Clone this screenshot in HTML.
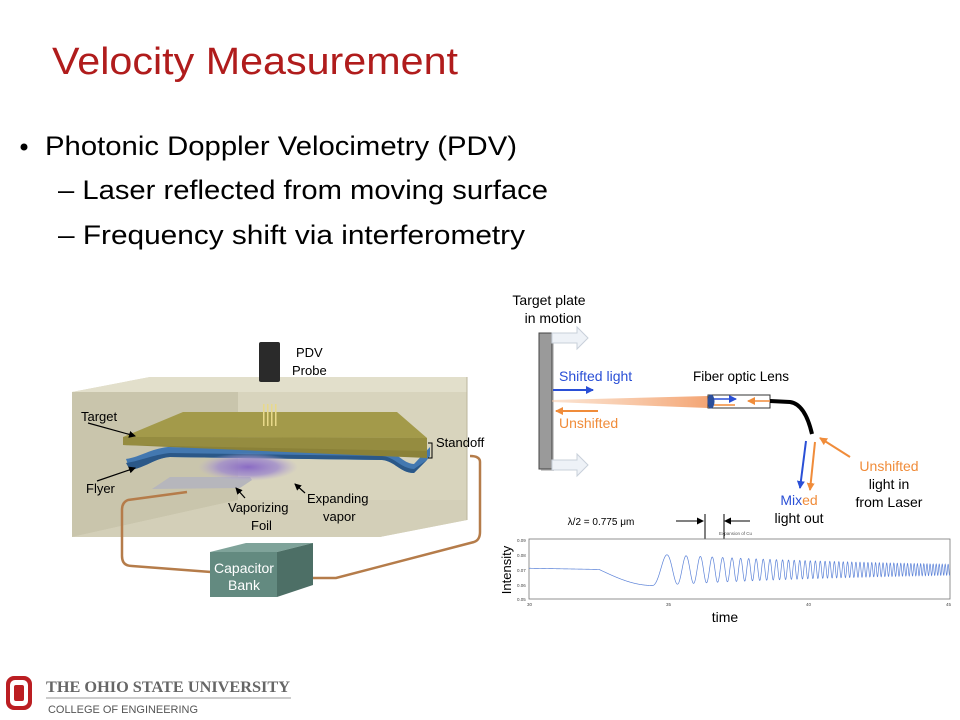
<!DOCTYPE html>
<html><head><meta charset="utf-8"><style>
html,body{margin:0;padding:0;background:#fff;}
svg{display:block;font-family:"Liberation Sans",Arial,sans-serif;}
</style></head><body>
<svg id="s" width="960" height="720" viewBox="0 0 960 720" xmlns="http://www.w3.org/2000/svg">
<defs>
<marker id="ab" markerWidth="8" markerHeight="8" refX="7" refY="4" orient="auto" markerUnits="userSpaceOnUse"><path d="M0,0 L8,4 L0,8 z" fill="#2a4fd6"/></marker>
<marker id="ao" markerWidth="8" markerHeight="8" refX="7" refY="4" orient="auto" markerUnits="userSpaceOnUse"><path d="M0,0 L8,4 L0,8 z" fill="#f08c3a"/></marker>
<marker id="ak" markerWidth="7" markerHeight="7" refX="6" refY="3.5" orient="auto" markerUnits="userSpaceOnUse"><path d="M0,0 L7,3.5 L0,7 z" fill="#000"/></marker>
<linearGradient id="beam" x1="0" x2="1"><stop offset="0" stop-color="#f7c7a3" stop-opacity="0.5"/><stop offset="1" stop-color="#f4a574"/></linearGradient>
<radialGradient id="vap"><stop offset="0" stop-color="#8a6bc4"/><stop offset="0.6" stop-color="#a08ccc" stop-opacity="0.8"/><stop offset="1" stop-color="#b7a9d4" stop-opacity="0"/></radialGradient>
</defs>
<text x="52" y="74" font-size="38" fill="#b01c1c" textLength="406" lengthAdjust="spacingAndGlyphs">Velocity Measurement</text>
<circle cx="24" cy="147" r="3.5" fill="#000"/>
<text x="45" y="155" font-size="27" fill="#000" textLength="472" lengthAdjust="spacingAndGlyphs">Photonic Doppler Velocimetry (PDV)</text>
<text x="58" y="199" font-size="27" fill="#000" textLength="490" lengthAdjust="spacingAndGlyphs">– Laser reflected from moving surface</text>
<text x="58" y="244" font-size="27" fill="#000" textLength="467" lengthAdjust="spacingAndGlyphs">– Frequency shift via interferometry</text>

<polygon points="72,392 150,377 467,377 467,520 380,537 72,537" fill="#d8d4bd"/>
<polygon points="72,392 150,377 467,377 467,392" fill="#e2dfcb"/>
<polygon points="72,392 238,392 238,500 72,537" fill="#c9c5ac"/>
<polygon points="72,537 238,500 467,500 467,520 380,537" fill="#d3cfb8"/>
<line x1="467" y1="377" x2="467" y2="520" stroke="#bbb69c"/>
<path d="M187,492 L128,500 Q122,502 122,510 L122,556 Q122,566 132,566 L211,572" fill="none" stroke="#b57c4a" stroke-width="2.5"/>
<path d="M300,578 L336,578 L474,542 Q480,540 480,532 L480,462 Q480,456 470,456" fill="none" stroke="#b57c4a" stroke-width="2.5"/>
<polygon points="210,552 246,543 313,543 277,552" fill="#7fa39a"/>
<polygon points="277,552 313,543 313,585 277,597" fill="#4d6f66"/>
<rect x="210" y="552" width="67" height="45" fill="#638a80"/>
<text x="244" y="573" font-size="14" fill="#fff" text-anchor="middle">Capacitor</text>
<text x="244" y="590" font-size="14" fill="#fff" text-anchor="middle">Bank</text>
<polygon points="152,489 240,488 252,480 250,477 170,477" fill="#b6b6bc"/>
<!-- flyer -->
<path d="M126,459 C140,457 150,449 168,447 L385,451 C398,452 402,463 414,464 L430,447 L430,456 L427,460 L414,473 C400,473 395,461 382,460 L170,457 C155,458 145,468 130,470 Z" fill="#4378b0"/>
<path d="M126,463 C140,461 152,455 170,453 L382,456 C395,457 400,468 414,469 L427,460 L414,473 C400,473 395,461 382,460 L170,457 C155,458 145,468 130,470 Z" fill="#2b5888"/>
<ellipse cx="248" cy="467" rx="50" ry="14" fill="url(#vap)"/>
<polygon points="123,437 183,412 397,412 427,438" fill="#a39a4a"/>
<polygon points="123,437 427,438 427,458 123,445" fill="#8a8138"/>
<polygon points="123,437 427,438 427,451 123,445" fill="#958c40"/>
<rect x="259" y="342" width="21" height="40" rx="2" fill="#2a2a2a"/>
<g fill="#e8d98a"><rect x="263" y="404" width="1.5" height="22"/><rect x="267" y="404" width="1.5" height="22"/><rect x="271" y="404" width="1.5" height="22"/><rect x="275" y="404" width="1.5" height="22"/></g>
<g font-size="13" fill="#000">
<text x="296" y="357">PDV</text><text x="292" y="375">Probe</text>
<text x="81" y="421">Target</text>
<text x="86" y="493">Flyer</text>
<text x="436" y="447">Standoff</text>
<text x="228" y="512">Vaporizing</text><text x="251" y="530">Foil</text>
<text x="307" y="503">Expanding</text><text x="323" y="521">vapor</text>
</g>
<path d="M428,443 L432,443 L432,458 L428,458" fill="none" stroke="#000"/>
<g stroke="#000" stroke-width="1.2">
<line x1="88" y1="423" x2="135" y2="436" marker-end="url(#ak)"/>
<line x1="97" y1="481" x2="135" y2="468" marker-end="url(#ak)"/>
<line x1="245" y1="498" x2="236" y2="488" marker-end="url(#ak)"/>
<line x1="305" y1="493" x2="295" y2="484" marker-end="url(#ak)"/>
</g>

<text x="549" y="305" font-size="14" text-anchor="middle">Target plate</text>
<text x="553" y="323" font-size="14" text-anchor="middle">in motion</text>
<rect x="541" y="335" width="13" height="136" fill="#333" opacity="0.25"/>
<rect x="539" y="333" width="13" height="136" fill="#9a9a9a" stroke="#444"/>
<path d="M552,333 L577,333 L577,327 L588,338 L577,349 L577,343 L552,343z" fill="#eef2f7" stroke="#c8d0da"/>
<path d="M552,460 L577,460 L577,454 L588,465 L577,476 L577,470 L552,470z" fill="#eef2f7" stroke="#c8d0da"/>
<polygon points="552,400 708,396 708,408 552,402" fill="url(#beam)"/>
<line x1="553" y1="390" x2="593" y2="390" stroke="#2a4fd6" stroke-width="2" marker-end="url(#ab)"/>
<line x1="598" y1="411" x2="556" y2="411" stroke="#f08c3a" stroke-width="2" marker-end="url(#ao)"/>
<text x="559" y="381" font-size="14" fill="#2a4fd6">Shifted light</text>
<text x="559" y="428" font-size="14" fill="#f08c3a">Unshifted</text>
<text x="693" y="381" font-size="13.5">Fiber optic Lens</text>
<rect x="708" y="395" width="62" height="13" fill="#fff" stroke="#333"/>
<ellipse cx="711" cy="401.5" rx="3.5" ry="7" fill="#2b4e9a"/>
<line x1="714" y1="399" x2="736" y2="399" stroke="#2a4fd6" stroke-width="1.5" marker-end="url(#ab)"/>
<line x1="714" y1="405" x2="735" y2="405" stroke="#f08c3a" stroke-width="1.5"/>
<line x1="770" y1="401" x2="748" y2="401" stroke="#f08c3a" stroke-width="1.5" marker-end="url(#ao)"/>
<path d="M770,401 L790,402 Q805,404 812,434" fill="none" stroke="#000" stroke-width="4"/>
<line x1="806" y1="441" x2="800" y2="488" stroke="#2a4fd6" stroke-width="2" marker-end="url(#ab)"/>
<line x1="815" y1="442" x2="810" y2="490" stroke="#f08c3a" stroke-width="2" marker-end="url(#ao)"/>
<line x1="850" y1="457" x2="820" y2="438" stroke="#f08c3a" stroke-width="2" marker-end="url(#ao)"/>
<text x="889" y="471" font-size="14" fill="#f08c3a" text-anchor="middle">Unshifted</text>
<text x="889" y="489" font-size="14" text-anchor="middle">light in</text>
<text x="889" y="507" font-size="14" text-anchor="middle">from Laser</text>
<text x="799" y="505" font-size="14" text-anchor="middle"><tspan fill="#2a4fd6">Mix</tspan><tspan fill="#f08c3a">ed</tspan></text>
<text x="799" y="523" font-size="14" text-anchor="middle">light out</text>
<text x="601" y="525" font-size="10" text-anchor="middle">λ/2 = 0.775 μm</text>
<line x1="676" y1="521" x2="703" y2="521" stroke="#000" marker-end="url(#ak)"/>
<line x1="750" y1="521" x2="725" y2="521" stroke="#000" marker-end="url(#ak)"/>
<line x1="705" y1="514" x2="705" y2="553" stroke="#000"/>
<line x1="724" y1="514" x2="724" y2="553" stroke="#000"/>
<text x="719" y="535" font-size="4.5" fill="#555">Expansion of Cu</text>
<rect x="529" y="539" width="421" height="60" fill="#fff" stroke="#777" stroke-width="0.8"/>
<g font-size="4.5" fill="#444">
<text x="517" y="542">0.09</text><text x="517" y="557">0.08</text><text x="517" y="572">0.07</text><text x="517" y="587">0.06</text><text x="517" y="601">0.05</text>
<text x="527" y="606">30</text><text x="666" y="606">35</text><text x="806" y="606">40</text><text x="946" y="606">45</text>
</g>
<polyline id="wave" fill="none" stroke="#5b82d8" stroke-width="0.7" points=""/>
<text x="511" y="570" font-size="13" text-anchor="middle" transform="rotate(-90 511 570)">Intensity</text>
<text x="725" y="622" font-size="14" text-anchor="middle">time</text>

<rect x="6" y="676" width="26" height="34" rx="8" fill="#bb1e22"/>
<rect x="10" y="680" width="18" height="26" rx="5" fill="#fff"/>
<rect x="14" y="685" width="10" height="16" rx="2" fill="#bb1e22"/>
<text x="46" y="692" font-family="Liberation Serif,serif" font-size="16" font-weight="bold" fill="#666" textLength="244" lengthAdjust="spacingAndGlyphs">THE OHIO STATE UNIVERSITY</text>
<line x1="46" y1="698" x2="291" y2="698" stroke="#999" stroke-width="1"/>
<text x="48" y="713" font-size="11" fill="#555" textLength="150" lengthAdjust="spacingAndGlyphs">COLLEGE OF ENGINEERING</text>
</svg>
<script>
var p=[];
for(var x=529;x<=950;x+=0.2){
 var t=30+(x-529)/421*15, y;
 if(t<32.5){y=0.0705-0.0008*(t-30)/2.5;}
 else if(t<34.4){y=0.0697-0.0107*Math.sin((t-32.5)/1.9*Math.PI/2);}
 else{
  var u=t-34.4; var ph=2*Math.PI*(0.75*u+0.42*u*u)-Math.PI/2; var a=0.0105*Math.exp(-u*0.1);
  y=0.0695+a*Math.sin(ph);}
 var py=539+(0.09-y)/0.04*60;
 p.push(x.toFixed(2)+","+py.toFixed(2));
}
document.getElementById('wave').setAttribute('points',p.join(' '));
</script>
</body></html>
